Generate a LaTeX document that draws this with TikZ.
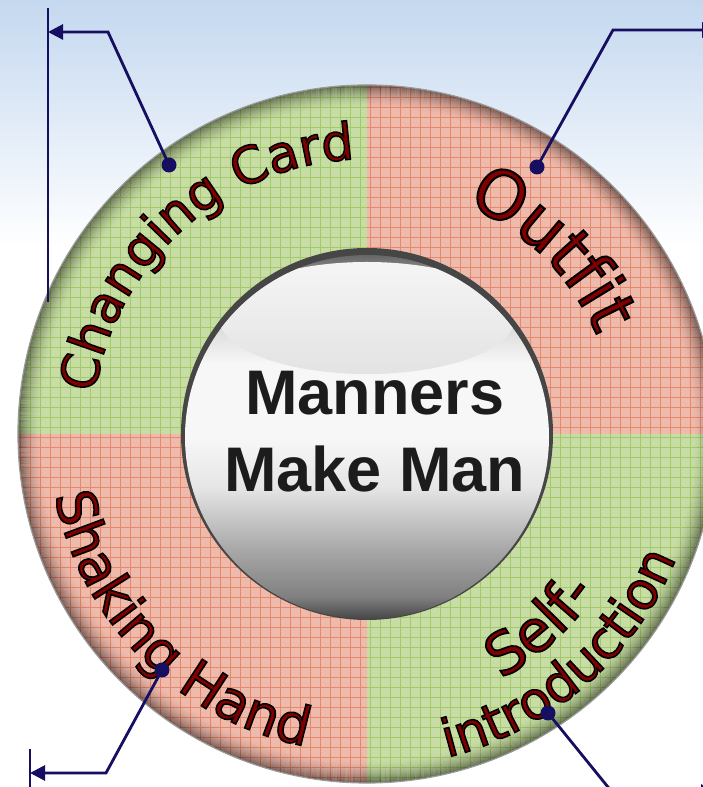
\documentclass[tikz,border=0pt]{standalone}
\usepackage{fontspec}
\usetikzlibrary{arrows.meta,decorations.text}
\newfontfamily\labelfont[RawFeature={embolden=3}]{DejaVu Sans}
\newfontfamily\hubfont{Liberation Sans}
\definecolor{bgblue}{RGB}{196,216,239}
\definecolor{ringgreen}{RGB}{200,221,166}
\definecolor{gridgreen}{RGB}{163,202,104}
\definecolor{ringred}{RGB}{238,186,172}
\definecolor{gridred}{RGB}{230,136,108}
\definecolor{labelred}{RGB}{128,0,0}
\definecolor{leaderblue}{RGB}{22,14,96}
\definecolor{hubink}{RGB}{28,28,28}
\definecolor{rimgray}{RGB}{70,70,70}
\pgfdeclareverticalshading{buttonface}{100bp}{color(0bp)=(rimgray); color(25bp)=(rimgray);
  color(28bp)=(black!50); color(35bp)=(black!33); color(43bp)=(black!10); color(50bp)=(black!3);
  color(60bp)=(black!3); color(67bp)=(black!18); color(72bp)=(black!40); color(75bp)=(black!60);
  color(100bp)=(black!60)}
\tikzset{
    leader/.style={draw=leaderblue, line width=2.8pt},
    pin/.style={circle, fill=leaderblue, inner sep=0pt, minimum size=15pt},
    hubtext/.style={font=\hubfont\bfseries\fontsize{63}{63}\selectfont, text=hubink, inner sep=0pt}
}
% curved label: red glyphs, stroked in black
\newcommand{\ringlabel}[5]{%
  \path[decorate, decoration={text along path, text align=center, text color=labelred,
      text={|\special{pdf:literal direct 0 0 0 RG}\labelfont\fontsize{#1}{#1}\selectfont|#5}}]
    (ringc) ++(#3:#2) arc[start angle=#3, end angle=#4, radius=#2];
}

\begin{document}
\begin{tikzpicture}[x=1pt, y=1pt]
    \useasboundingbox (0,0) rectangle (703,787);
    \clip (0,0) rectangle (703,787);

    % backdrop
    \fill[white] (0,0) rectangle (703,787);
    \fill[top color=bgblue, bottom color=white] (0,540) rectangle (703,787);

    \coordinate (ringc) at (367,353);
    \coordinate (facec) at (367,350);

    % ring quadrants
    \foreach \a/\fc/\gc in {90/ringgreen/gridgreen, 0/ringred/gridred, 180/ringred/gridred, 270/ringgreen/gridgreen}{
        \begin{scope}
            \clip (ringc) -- ++(\a:349) arc[start angle=\a, delta angle=90, radius=349] -- cycle;
            \fill[fill=\fc] (0,0) rectangle (703,787);
            \draw[draw=\gc, line width=0.6pt, step=10pt] (0,0) grid (703,787);
        \end{scope}
    }
    % darker outer rim
    \foreach \k in {0,...,23}{
        \pgfmathsetmacro{\op}{0.45*(1-\k/24)^2}
        \draw[black, opacity=\op, line width=1.05pt] (ringc) circle[radius=348.5-\k];
    }
    \draw[gray!80, line width=1.2pt] (ringc) circle[radius=349];

    % centre button
    \fill[rimgray] (ringc) circle[radius=186];
    \shade[shading=buttonface] (facec) circle[radius=182];
    \begin{scope}
        \clip (facec) circle[radius=182];
        \shade[top color=black!4, bottom color=black!11] (367,469) ellipse[x radius=148, y radius=56];
    \end{scope}
    \node[hubtext, anchor=base] (manners) at (375,372) {Manners};
    \node[hubtext, anchor=base] (makeman) at (375,295) {Make Man};

    % labels on the ring
    \ringlabel{51}{275}{177}{87}{Changing Card}
    \ringlabel{67}{250}{90}{0}{Outfit}
    \ringlabel{54}{318}{180}{270}{Shaking Hand}
    \ringlabel{58}{279}{267}{357}{Self-}
    \ringlabel{52}{333}{266}{356}{introduction}

    % leaders
    \node[pin] (cardpin) at (169,622) {};
    \coordinate (cardbend) at (108,755);
    \coordinate (cardend) at (48,755);
    \coordinate (cardbartop) at (48,779);
    \coordinate (cardbarbot) at (48,485);
    \draw[leader] (cardbartop) -- (cardbarbot);
    \draw[leader, -{Triangle[length=15pt, width=15pt]}] (cardpin.center) -- (cardbend) -- (cardend);

    \node[pin] (outfitpin) at (537,620) {};
    \coordinate (outfitbend) at (613,757);
    \coordinate (outfitend) at (717,757);
    \draw[leader, -{Triangle[length=15pt, width=15pt]}] (outfitpin.center) -- (outfitbend) -- (outfitend);

    \node[pin] (handpin) at (162,117) {};
    \coordinate (handbend) at (106,14);
    \coordinate (handend) at (30,14);
    \coordinate (handbartop) at (30,38);
    \coordinate (handbarbot) at (30,-20);
    \draw[leader] (handbartop) -- (handbarbot);
    \draw[leader, -{Triangle[length=15pt, width=15pt]}] (handpin.center) -- (handbend) -- (handend);

    \node[pin] (selfpin) at (548,74) {};
    \coordinate (selfbend) at (612,-5);
    \coordinate (selfend) at (716,-5);
    \draw[leader, -{Triangle[length=15pt, width=15pt]}] (selfpin.center) -- (selfbend) -- (selfend);
\end{tikzpicture}
\end{document}
